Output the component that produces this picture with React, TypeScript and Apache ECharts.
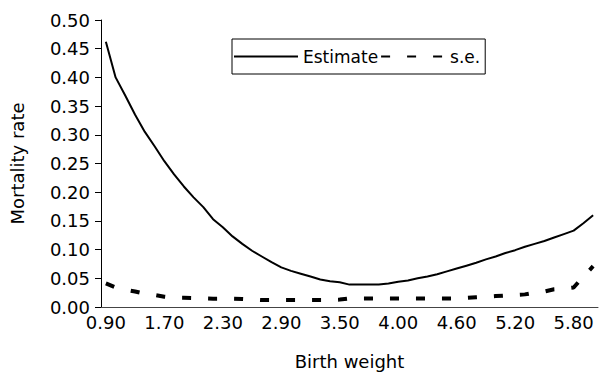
import React, { useEffect, useRef } from "react";
import * as echarts from "echarts";

const birthWeight = [
  "0.90", "1.00", "1.20", "1.30", "1.40", "1.60", "1.70", "1.80", "1.90", "2.00",
  "2.10", "2.20", "2.30", "2.40", "2.50", "2.60", "2.70", "2.80", "2.90", "3.00",
  "3.10", "3.20", "3.30", "3.40", "3.50", "3.60", "3.70", "3.80", "3.90", "3.95",
  "4.00", "4.10", "4.20", "4.30", "4.40", "4.50", "4.60", "4.70", "4.80", "4.90",
  "5.00", "5.10", "5.20", "5.30", "5.40", "5.50", "5.60", "5.70", "5.80", "5.90",
  "6.00",
];

const estimate = [
  0.462, 0.4, 0.368, 0.335, 0.305, 0.28, 0.254, 0.231, 0.21, 0.191,
  0.174, 0.153, 0.139, 0.123, 0.11, 0.098, 0.088, 0.078, 0.069, 0.063,
  0.058, 0.053, 0.048, 0.045, 0.043, 0.039, 0.039, 0.039, 0.039, 0.041,
  0.044, 0.046, 0.05, 0.053, 0.057, 0.062, 0.067, 0.072, 0.077, 0.083,
  0.088, 0.094, 0.099, 0.105, 0.11, 0.115, 0.121, 0.127, 0.133, 0.146,
  0.16,
];

const standardError = [
  0.041, 0.034, 0.03, 0.027, 0.023, 0.021, 0.018, 0.016, 0.016, 0.0155,
  0.015, 0.0145, 0.0145, 0.0145, 0.014, 0.013, 0.012, 0.012, 0.012, 0.012,
  0.012, 0.012, 0.012, 0.012, 0.013, 0.015, 0.015, 0.015, 0.015, 0.015,
  0.015, 0.015, 0.015, 0.015, 0.015, 0.015, 0.015, 0.016, 0.017, 0.018,
  0.019, 0.02, 0.021, 0.022, 0.025, 0.027, 0.031, 0.032, 0.034, 0.053,
  0.071,
];

const seriesNames = ["Estimate", "s.e."];

const FONT = "DejaVu Sans";

export default function App() {
  const ref = useRef<HTMLDivElement>(null);

  useEffect(() => {
    document.body.style.margin = "0";
    if (!ref.current) return;
    const chart = echarts.init(ref.current, null, { renderer: "svg" });
    chart.setOption({
      animation: false,
      backgroundColor: "#fff",
      grid: { left: 100, right: 8, top: 20, bottom: 56, containLabel: false },
      legend: {
        left: 232,
        top: 39,
        itemWidth: 64,
        itemHeight: 14,
        itemGap: 2,
        borderColor: "#000",
        borderWidth: 1,
        borderRadius: 0,
        padding: [9, 5, 9, 1],
        itemStyle: { opacity: 0 },
        textStyle: { fontFamily: FONT, fontSize: 17, color: "#000" },
        data: seriesNames,
      },
      xAxis: {
        type: "category",
        data: birthWeight,
        boundaryGap: true,
        name: "Birth weight",
        nameLocation: "middle",
        nameGap: 45,
        nameTextStyle: { fontFamily: FONT, fontSize: 18, color: "#000" },
        axisLine: { show: true, lineStyle: { color: "#444", width: 1 } },
        axisTick: { show: false },
        axisLabel: {
          interval: 5,
          margin: 6,
          fontFamily: FONT,
          fontSize: 18,
          color: "#000",
        },
        splitLine: { show: false },
      },
      yAxis: {
        type: "value",
        min: 0,
        max: 0.5,
        interval: 0.05,
        name: "Mortality rate",
        nameLocation: "middle",
        nameGap: 75,
        nameTextStyle: { fontFamily: FONT, fontSize: 18, color: "#000" },
        axisLine: { show: true, lineStyle: { color: "#000", width: 1 } },
        axisTick: { show: true, inside: false, length: 6, lineStyle: { color: "#000" } },
        axisLabel: {
          margin: 11,
          fontFamily: FONT,
          fontSize: 18,
          color: "#000",
          formatter: (v: number) => v.toFixed(2),
        },
        splitLine: { show: false },
      },
      series: [
        {
          name: seriesNames[0],
          type: "line",
          data: estimate,
          symbol: "none",
          smooth: false,
          lineStyle: { color: "#000", width: 2, type: "solid" },
          itemStyle: { color: "#000" },
        },
        {
          name: seriesNames[1],
          type: "line",
          data: standardError,
          symbol: "none",
          smooth: false,
          lineStyle: { color: "#000", width: 4, type: [9, 17], cap: "butt" },
          itemStyle: { color: "#000" },
        },
      ],
    });
    return () => chart.dispose();
  }, []);

  return <div ref={ref} style={{ width: 606, height: 375 }} />;
}
